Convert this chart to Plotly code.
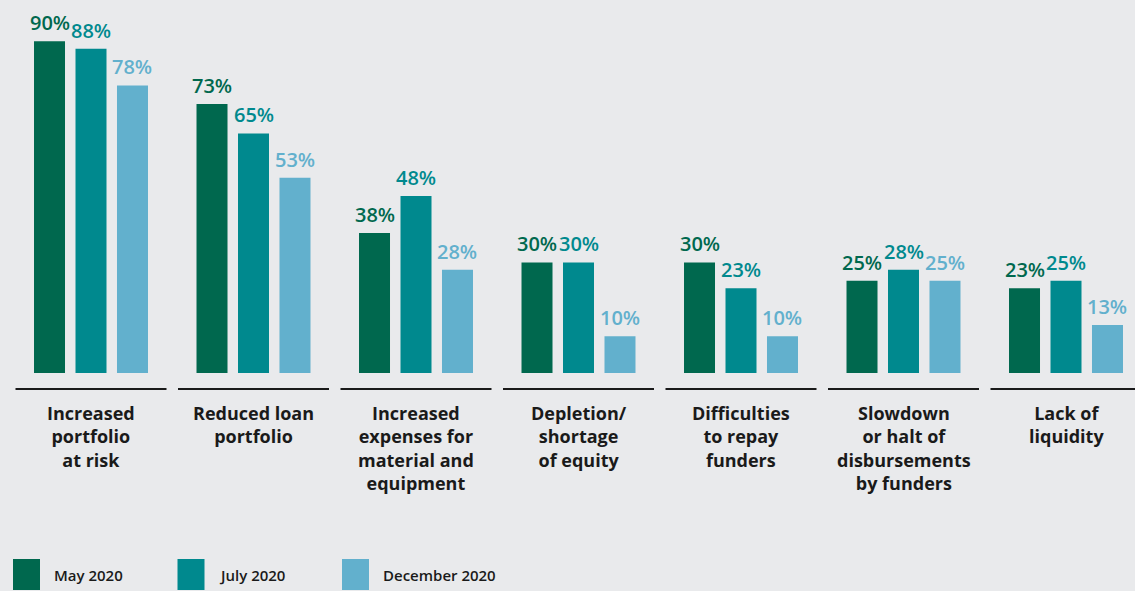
import plotly.graph_objects as go

# Survey results: share of respondents reporting each effect
categories = [
    "Increased<br>portfolio<br>at risk",
    "Reduced loan<br>portfolio",
    "Increased<br>expenses for<br>material and<br>equipment",
    "Depletion/<br>shortage<br>of equity",
    "Difficulties<br>to repay<br>funders",
    "Slowdown<br>or halt of<br>disbursements<br>by funders",
    "Lack of<br>liquidity",
]
series_names = ["May 2020", "July 2020", "December 2020"]
may_2020 = [90, 73, 38, 30, 30, 25, 23]
july_2020 = [88, 65, 48, 30, 23, 28, 25]
december_2020 = [78, 53, 28, 10, 10, 25, 13]

series_values = [may_2020, july_2020, december_2020]
colors = ["#00684e", "#00898e", "#62b0cd"]

BG = "#e9eaec"
FONT = "Open Sans"
W, H = 1135, 591
PLOT_H = 373  # pixel height of the bar area
BAR_GAP = 0.234
GROUP_GAP = 0.253

xs = list(range(len(categories)))
slot = (1 - BAR_GAP) / len(series_names)
offsets = [(k - (len(series_names) - 1) / 2) * slot for k in range(len(series_names))]

fig = go.Figure()
for name, vals, col in zip(series_names, series_values, colors):
    fig.add_trace(go.Bar(
        x=xs, y=vals, name=name, marker=dict(color=col, line=dict(width=0)),
        showlegend=False, hovertemplate="%{y}%<extra>" + name + "</extra>",
    ))

annotations = []
# value labels above each bar
for vals, col, off in zip(series_values, colors, offsets):
    for x, v in zip(xs, vals):
        annotations.append(dict(
            x=x + off, y=v, xref="x", yref="y", text=f"{v}%", showarrow=False,
            yanchor="bottom", xanchor="center", yshift=3,
            font=dict(family=FONT, size=20, color=col, weight=600),
        ))

# category labels under the axis segments
for x, label in zip(xs, categories):
    annotations.append(dict(
        x=x, y=(PLOT_H - 399) / PLOT_H, xref="x", yref="paper", text=label,
        showarrow=False, yanchor="top", xanchor="center", align="center",
        font=dict(family=FONT, size=18, color="#1a1a1a", weight=700),
    ))

shapes = []
# separate axis line segment under each group
seg_half = 0.4646
for x in xs:
    shapes.append(dict(
        type="line", xref="x", yref="paper",
        x0=x - seg_half, x1=x + seg_half,
        y0=(PLOT_H - 389) / PLOT_H, y1=(PLOT_H - 389) / PLOT_H,
        line=dict(color="#1a1a1a", width=2),
    ))

# custom legend: large swatches along the bottom
leg_x0, leg_pitch, sw_w = 13, 164.5, 27
sw_top, sw_bot = 559, 590
for k, (name, col) in enumerate(zip(series_names, colors)):
    left = leg_x0 + k * leg_pitch
    shapes.append(dict(
        type="rect", xref="paper", yref="paper",
        x0=left / W, x1=(left + sw_w) / W,
        y0=(PLOT_H - sw_bot) / PLOT_H, y1=(PLOT_H - sw_top) / PLOT_H,
        fillcolor=col, line=dict(width=0),
    ))
    annotations.append(dict(
        x=(left + sw_w + 12) / W, y=(PLOT_H - 575) / PLOT_H, xref="paper", yref="paper",
        text=name, showarrow=False, xanchor="left", yanchor="middle",
        font=dict(family=FONT, size=15, color="#1a1a1a", weight=600),
    ))

px_per_unit = 162.5
first_center = 91
fig.update_layout(
    width=W, height=H,
    margin=dict(l=0, r=0, t=0, b=H - PLOT_H),
    paper_bgcolor=BG, plot_bgcolor=BG,
    barmode="group", bargap=BAR_GAP, bargroupgap=GROUP_GAP,
    xaxis=dict(
        range=[-first_center / px_per_unit, (W - first_center) / px_per_unit],
        showgrid=False, zeroline=False, showticklabels=False, ticks="",
        showline=False, fixedrange=True,
    ),
    yaxis=dict(
        range=[0, PLOT_H / 3.686], showgrid=False, zeroline=False,
        showticklabels=False, ticks="", showline=False, fixedrange=True,
    ),
    annotations=annotations, shapes=shapes, showlegend=False,
)

fig.write_html("out.html")
